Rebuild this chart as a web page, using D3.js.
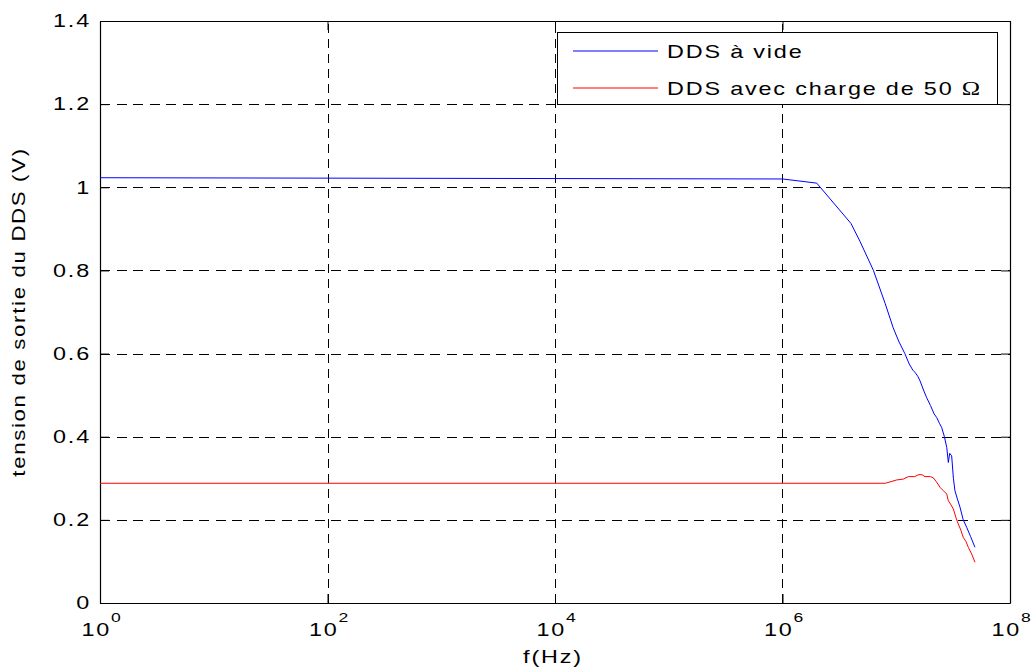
<!DOCTYPE html>
<html>
<head>
<meta charset="utf-8">
<script src="https://cdn.jsdelivr.net/npm/d3@7"></script>
<style>
  body { margin: 0; background: #fff; }
  svg { display: block; }
  text { font-family: "Liberation Sans", Arial, Helvetica, sans-serif; fill: #000; }
</style>
</head>
<body>
<svg id="chart" width="1034" height="668"></svg>
<script>
// ---- Data ----
const xTickPowers = [0, 2, 4, 6, 8];
const yTicks = [0, 0.2, 0.4, 0.6, 0.8, 1, 1.2, 1.4];
const yTickLabels = ["0", "0.2", "0.4", "0.6", "0.8", "1", "1.2", "1.4"];
const seriesNames = ["DDS à vide", "DDS avec charge de 50 "];
const seriesColors = ["#0000ff", "#ff0000"];

// Blue: DDS à vide (frequency Hz, voltage V)
const freqVide = [1, 1e6, 2e6, 4e6, 4.8e6, 6.3e6, 8e6, 9.4e6, 1.05e7, 1.19e7, 1.3e7, 1.4e7, 1.46e7, 1.55e7, 1.62e7, 1.75e7, 1.85e7, 2.0e7, 2.15e7, 2.27e7, 2.4e7, 2.51e7, 2.65e7, 2.78e7, 2.87e7, 2.95e7, 3.07e7, 3.18e7, 3.28e7, 3.45e7, 3.63e7, 3.88e7, 4.16e7, 4.5e7, 4.92e7];
const voltVide = [1.023, 1.02, 1.01, 0.913, 0.870, 0.80, 0.72, 0.662, 0.63, 0.60, 0.575, 0.56, 0.555, 0.545, 0.534, 0.51, 0.494, 0.475, 0.455, 0.446, 0.432, 0.422, 0.40, 0.374, 0.338, 0.36, 0.354, 0.30, 0.270, 0.25, 0.231, 0.20, 0.182, 0.16, 0.134];

// Red: DDS avec charge de 50 Ω
const freqCharge = [1, 8e6, 9e6, 1.01e7, 1.15e7, 1.28e7, 1.45e7, 1.55e7, 1.62e7, 1.7e7, 1.79e7, 2.0e7, 2.12e7, 2.25e7, 2.43e7, 2.6e7, 2.78e7, 2.87e7, 3.0e7, 3.18e7, 3.35e7, 3.51e7, 3.7e7, 3.88e7, 4.1e7, 4.3e7, 4.6e7, 4.92e7];
const voltCharge = [0.288, 0.288, 0.292, 0.296, 0.298, 0.304, 0.304, 0.308, 0.309, 0.308, 0.304, 0.304, 0.301, 0.292, 0.278, 0.270, 0.262, 0.246, 0.238, 0.226, 0.205, 0.19, 0.175, 0.158, 0.148, 0.134, 0.118, 0.098];

// ---- Layout ----
const margin = { left: 100, top: 21, right: 1010, bottom: 603 };
const svg = d3.select("#chart");
const SX = 1.3;   // text stretch along its baseline, as seen in the reference
const LS = 1.4;   // extra letter spacing

const x = d3.scaleLog().domain([1, 1e8]).range([margin.left, margin.right]);
const y = d3.scaleLinear().domain([0, 1.4]).range([margin.bottom, margin.top]);

const W = margin.right - margin.left;
const H = margin.bottom - margin.top;

svg.append("rect").attr("x", margin.left).attr("y", margin.top)
  .attr("width", W).attr("height", H).attr("fill", "#fff");

const xTickVals = xTickPowers.map(p => Math.pow(10, p));

// Grid lines (dashed)
const grid = svg.append("g").attr("stroke", "#000").attr("stroke-width", 1)
  .attr("shape-rendering", "crispEdges");
xTickVals.slice(1, -1).forEach(v => {
  grid.append("line").attr("x1", Math.round(x(v)) + 0.5).attr("x2", Math.round(x(v)) + 0.5)
    .attr("y1", margin.bottom).attr("y2", margin.top).attr("stroke-dasharray", "9,6");
});
yTicks.slice(1, -1).forEach(v => {
  grid.append("line").attr("y1", Math.round(y(v)) + 0.5).attr("y2", Math.round(y(v)) + 0.5)
    .attr("x1", margin.left).attr("x2", margin.right).attr("stroke-dasharray", "10,6.5");
});

// Axes (inward ticks, mirrored on top/right)
const tickLen = 9;
const xAxisB = d3.axisBottom(x).tickValues(xTickVals).tickSizeInner(-tickLen).tickSizeOuter(0).tickFormat("");
const xAxisT = d3.axisTop(x).tickValues(xTickVals).tickSizeInner(-tickLen).tickSizeOuter(0).tickFormat("");
const yAxisL = d3.axisLeft(y).tickValues(yTicks).tickSizeInner(-tickLen).tickSizeOuter(0).tickFormat("");
const yAxisR = d3.axisRight(y).tickValues(yTicks).tickSizeInner(-tickLen).tickSizeOuter(0).tickFormat("");

svg.append("g").attr("transform", `translate(0,${margin.bottom})`).call(xAxisB);
svg.append("g").attr("transform", `translate(0,${margin.top})`).call(xAxisT);
svg.append("g").attr("transform", `translate(${margin.left},0)`).call(yAxisL);
svg.append("g").attr("transform", `translate(${margin.right},0)`).call(yAxisR);
svg.selectAll(".domain").attr("stroke", "#000").attr("stroke-width", 1.2);
svg.selectAll(".tick line").attr("stroke", "#000").attr("stroke-width", 1);

// Y tick labels
svg.append("g").selectAll("text").data(yTicks).join("text")
  .attr("transform", d => `translate(${margin.left - 9},${y(d)}) scale(${SX},1)`)
  .attr("dy", "0.35em").attr("text-anchor", "end")
  .attr("font-size", 18).attr("letter-spacing", LS)
  .text((d, i) => yTickLabels[i]);

// X tick labels: 10^p
const xl = svg.append("g").selectAll("text").data(xTickPowers).join("text")
  .attr("transform", d => `translate(${x(Math.pow(10, d)) + 2},636) scale(${SX},1)`)
  .attr("text-anchor", "middle").attr("font-size", 18).attr("letter-spacing", LS);
xl.append("tspan").text("10");
xl.append("tspan").attr("dy", -14).attr("font-size", 13.5).text(d => d);

// Axis titles
svg.append("text").attr("transform", `translate(553,663) scale(${SX},1)`)
  .attr("text-anchor", "middle").attr("font-size", 18).attr("letter-spacing", LS).text("f(Hz)");
svg.append("text")
  .attr("transform", `translate(25,${(margin.top + margin.bottom) / 2}) rotate(-90) scale(1.2,1)`)
  .attr("text-anchor", "middle").attr("font-size", 18.5).attr("letter-spacing", 1.4)
  .text("tension de sortie du DDS (V)");

// Lines
svg.append("clipPath").attr("id", "clip").append("rect")
  .attr("x", margin.left).attr("y", margin.top).attr("width", W).attr("height", H);
const line = d3.line().x(d => x(d[0])).y(d => y(d[1]));
const series = [
  d3.zip(freqVide, voltVide),
  d3.zip(freqCharge, voltCharge)
];
svg.append("g").attr("clip-path", "url(#clip)").selectAll("path").data(series).join("path")
  .attr("d", line).attr("fill", "none")
  .attr("stroke", (d, i) => seriesColors[i]).attr("stroke-width", 1);

// Legend
const lg = svg.append("g");
lg.append("rect").attr("x", 557.5).attr("y", 32.5).attr("width", 440).attr("height", 72)
  .attr("fill", "#fff").attr("stroke", "#000").attr("stroke-width", 1);
const rowsY = [51, 88];
seriesNames.forEach((name, i) => {
  lg.append("line").attr("x1", 573).attr("x2", 658).attr("y1", rowsY[i]).attr("y2", rowsY[i])
    .attr("stroke", seriesColors[i]).attr("stroke-width", 1);
  const t = lg.append("text").attr("transform", `translate(667,${rowsY[i] + 6.5}) scale(${SX},1)`)
    .attr("font-size", 18).attr("letter-spacing", LS).text(name);
  if (i === 1) {
    t.append("tspan").attr("font-family", "'Liberation Serif', 'DejaVu Serif', serif")
      .attr("font-size", 19).text("Ω");
  }
});
</script>
</body>
</html>
